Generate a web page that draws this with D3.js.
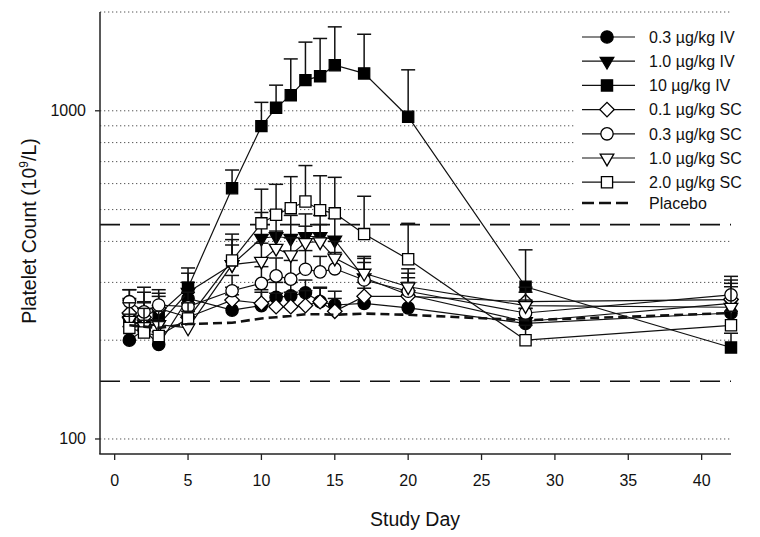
<!DOCTYPE html>
<html><head><meta charset="utf-8">
<script src="https://cdn.jsdelivr.net/npm/d3@7/dist/d3.min.js"></script>
<style>body{margin:0;background:#fff}svg{display:block}text{font-family:"Liberation Sans",Arial,sans-serif;fill:#111}</style>
</head><body><svg id="c" width="760" height="537"></svg>
<script>
const days = [1,2,3,5,8,10,11,12,13,14,15,17,20,28,42];
const seriesNames = ["0.3 \u00b5g/kg IV","1.0 \u00b5g/kg IV","10 \u00b5g/kg IV","0.1 \u00b5g/kg SC","0.3 \u00b5g/kg SC","1.0 \u00b5g/kg SC","2.0 \u00b5g/kg SC","Placebo"];
const iv03    = [200,215,194,268,247,255,270,273,279,262,256,259,251,225,242];
const iv03Top = [220,235,212,300,275,280,300,300,305,288,282,288,275,250,268];
const iv1     = [228,224,223,280,340,409,414,409,414,414,404,310,275,228,259];
const iv1Top  = [265,260,255,320,405,490,495,480,485,480,470,360,320,250,305];
const iv10    = [230,222,240,289,581,898,1021,1116,1240,1275,1377,1300,959,291,190];
const iv10Top = [285,290,285,332,660,1061,1197,1439,1619,1661,1802,1711,1333,377,210];
const sc01    = [242,235,250,235,265,259,253,253,255,262,245,272,272,262,266];
const sc01Top = [268,262,272,258,290,285,278,280,283,290,268,300,300,290,298];
const sc03    = [262,244,256,253,283,298,314,307,329,323,330,305,282,242,275];
const sc03Top = [285,280,278,280,315,335,356,350,375,360,370,345,310,265,313];
const sc1     = [230,220,223,218,340,348,381,364,397,399,356,320,291,255,252];
const sc1Top  = [260,250,245,245,390,395,430,410,445,450,400,355,330,280,291];
const sc2     = [218,211,206,233,350,454,482,505,529,498,487,421,353,200,222];
const sc2Top  = [240,230,228,260,421,577,597,630,681,634,627,549,454,222,245];
const placebo = [222,220,218,224,226,233,235,237,240,240,239,241,239,230,242];
const gridValues = [100,200,300,400,500,600,700,800,900,1000,2000];
const normalRange = [150,450];
const xTicks = [0,5,10,15,20,25,30,35,40];
const yTicks = [100,1000];

const svg = d3.select("#c");
const x = d3.scaleLinear().domain([-1,42]).range([100,731]);
const y = d3.scaleLog().domain([90,2000]).range([454,12]);

// grid
svg.append("g").selectAll("line").data(gridValues).join("line")
  .attr("x1",100).attr("x2",731).attr("y1",d=>y(d)).attr("y2",d=>y(d))
  .attr("stroke","#555").attr("stroke-width",1).attr("stroke-dasharray","1.3,2.7");

// legend background (hides grid)
svg.append("rect").attr("x",575).attr("y",22).attr("width",180).attr("height",192).attr("fill","#fff");

// normal range
svg.append("g").selectAll("line").data(normalRange).join("line")
  .attr("x1",100).attr("x2",731).attr("y1",d=>y(d)).attr("y2",d=>y(d))
  .attr("stroke","#111").attr("stroke-width",1.6).attr("stroke-dasharray","20,10");

const series = [
  {v:iv03, t:iv03Top, sym:"circle", fill:"#000"},
  {v:iv1,  t:iv1Top,  sym:"tri", fill:"#000"},
  {v:iv10, t:iv10Top, sym:"square", fill:"#000"},
  {v:sc01, t:sc01Top, sym:"diamond", fill:"#fff"},
  {v:sc03, t:sc03Top, sym:"circle", fill:"#fff"},
  {v:sc1,  t:sc1Top,  sym:"tri", fill:"#fff"},
  {v:sc2,  t:sc2Top,  sym:"square", fill:"#fff"}
];
function symPath(s){
  if(s==="circle") return d3.symbol(d3.symbolCircle,120)();
  if(s==="square") return d3.symbol(d3.symbolSquare,125)();
  if(s==="diamond") return d3.symbol(d3.symbolSquare,105)();
  return d3.symbol(d3.symbolTriangle,80)();
}
function symTransform(s,cx,cy){
  if(s==="diamond") return `translate(${cx},${cy}) rotate(45)`;
  if(s==="tri") return `translate(${cx},${cy}) rotate(180)`;
  return `translate(${cx},${cy})`;
}
const line = d3.line().x(d=>x(d[0])).y(d=>y(d[1]));
const plot = svg.append("g");
series.forEach(s=>{
  const pts = days.map((d,i)=>[d,s.v[i],s.t[i]]);
  const g = plot.append("g");
  g.selectAll("line.e").data(pts).join("line")
    .attr("x1",d=>x(d[0])).attr("x2",d=>x(d[0])).attr("y1",d=>y(d[1])).attr("y2",d=>y(d[2]))
    .attr("stroke","#111").attr("stroke-width",1.5);
  g.selectAll("line.c").data(pts).join("line")
    .attr("x1",d=>x(d[0])-7).attr("x2",d=>x(d[0])+7).attr("y1",d=>y(d[2])).attr("y2",d=>y(d[2]))
    .attr("stroke","#111").attr("stroke-width",1.5);
  g.append("path").attr("d",line(pts)).attr("fill","none").attr("stroke","#111").attr("stroke-width",1.2);
  g.selectAll("path.m").data(pts).join("path")
    .attr("d",symPath(s.sym)).attr("transform",d=>symTransform(s.sym,x(d[0]),y(d[1])))
    .attr("fill",s.fill).attr("stroke","#000").attr("stroke-width",1.3);
});
plot.append("path").attr("d",line(days.map((d,i)=>[d,placebo[i]])))
  .attr("fill","none").attr("stroke","#111").attr("stroke-width",2.6).attr("stroke-dasharray","9,5");

// axes
svg.append("line").attr("x1",100).attr("x2",100).attr("y1",12).attr("y2",454).attr("stroke","#222").attr("stroke-width",1.5);
svg.append("line").attr("x1",99.25).attr("x2",731).attr("y1",454).attr("y2",454).attr("stroke","#222").attr("stroke-width",1.5);
svg.append("g").selectAll("line").data(xTicks).join("line")
  .attr("x1",d=>x(d)).attr("x2",d=>x(d)).attr("y1",454).attr("y2",460).attr("stroke","#222").attr("stroke-width",1.3);
svg.append("g").selectAll("text").data(xTicks).join("text")
  .attr("x",d=>x(d)).attr("y",486).attr("text-anchor","middle").attr("font-size",16).text(d=>d);
svg.append("g").selectAll("line").data(yTicks).join("line")
  .attr("x1",95).attr("x2",100).attr("y1",d=>y(d)).attr("y2",d=>y(d)).attr("stroke","#222").attr("stroke-width",1.3);
svg.append("g").selectAll("text").data(yTicks).join("text")
  .attr("x",86).attr("y",d=>y(d)+5.5).attr("text-anchor","end").attr("font-size",16).text(d=>d);

svg.append("text").attr("x",415).attr("y",526).attr("text-anchor","middle").attr("font-size",19.5).text("Study Day");
const yl = svg.append("text").attr("transform","translate(36,231) rotate(-90)").attr("text-anchor","middle").attr("font-size",19.5);
yl.append("tspan").text("Platelet Count (10");
yl.append("tspan").attr("font-size",12).attr("dy",-8).text("9");
yl.append("tspan").attr("dy",8).text("/L)");

// legend
const leg = svg.append("g");
seriesNames.forEach((name,i)=>{
  const cy = i<7 ? 37+i*24.2 : 203;
  if(i<7){
    const s = series[i];
    leg.append("line").attr("x1",582).attr("x2",635).attr("y1",cy).attr("y2",cy).attr("stroke","#111").attr("stroke-width",1.2);
    leg.append("path").attr("d",symPath(s.sym)).attr("transform",symTransform(s.sym,607,cy))
      .attr("fill",s.fill).attr("stroke","#000").attr("stroke-width",1.3);
  } else {
    leg.append("line").attr("x1",582).attr("x2",632).attr("y1",cy).attr("y2",cy).attr("stroke","#111").attr("stroke-width",2.6).attr("stroke-dasharray","12,5");
  }
  leg.append("text").attr("x",649).attr("y",cy+5.8).attr("font-size",16).text(name);
});
</script></body></html>
